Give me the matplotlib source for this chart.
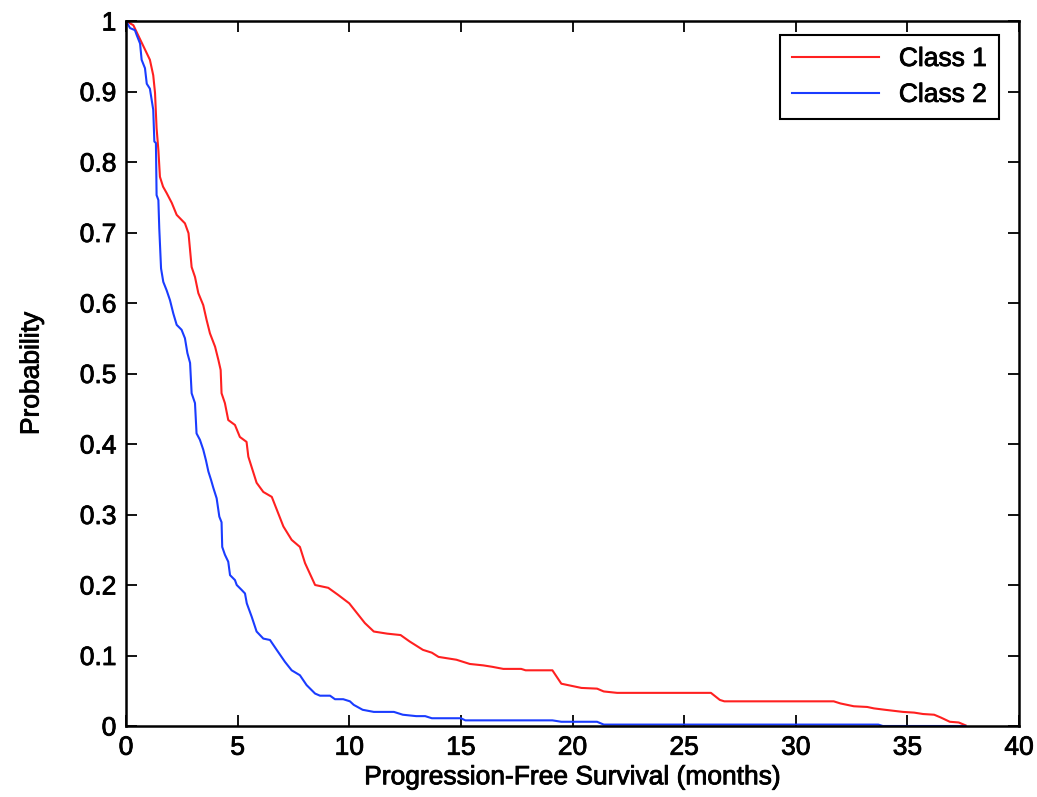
import matplotlib
matplotlib.use("Agg")
import matplotlib.pyplot as plt
import matplotlib.patheffects as pe

plt.rcParams['font.family'] = ['Liberation Sans', 'DejaVu Sans']

# Class 1 (red) survival curve
class1_x = [0, 0.33, 1.07, 1.22, 1.3, 1.37, 1.45, 1.52, 1.66, 1.82, 2.05, 2.27, 2.64, 2.8,
            2.94, 3.09, 3.24, 3.46, 3.61, 3.76, 3.99, 4.14, 4.24, 4.28, 4.43, 4.58, 4.88,
            5.1, 5.4, 5.48, 5.85, 6.15, 6.53, 7.05, 7.42, 7.79, 8.02, 8.47, 9.06, 9.5,
            10.0, 10.7, 11.1, 11.7, 12.3, 12.7, 13.3, 13.7, 14.0, 14.4, 14.8, 15.4, 16.0,
            16.4, 16.9, 17.7, 17.9, 19.1, 19.5, 20.4, 21.1, 21.4, 22.0, 26.2, 26.6, 26.8,
            31.7, 32.0, 32.6, 33.2, 33.5, 34.0, 34.8, 35.3, 35.7, 36.2, 36.5, 36.9, 37.3, 37.6]
class1_y = [1.0, 0.994, 0.945, 0.923, 0.898, 0.848, 0.817, 0.779, 0.765, 0.756, 0.742, 0.725,
            0.713, 0.699, 0.651, 0.637, 0.614, 0.597, 0.576, 0.557, 0.538, 0.519, 0.505,
            0.472, 0.458, 0.434, 0.427, 0.41, 0.403, 0.382, 0.345, 0.332, 0.325, 0.283,
            0.264, 0.254, 0.231, 0.2, 0.196, 0.186, 0.174, 0.146, 0.134, 0.131, 0.129,
            0.12, 0.108, 0.104, 0.098, 0.096, 0.094, 0.088, 0.086, 0.084, 0.081, 0.081,
            0.079, 0.079, 0.06, 0.054, 0.053, 0.049, 0.047, 0.047, 0.037, 0.035, 0.035,
            0.032, 0.028, 0.027, 0.025, 0.023, 0.02, 0.019, 0.017, 0.016, 0.012, 0.006,
            0.005, 0.001]

# Class 2 (blue) survival curve
class2_x = [0, 0.18, 0.4, 0.48, 0.63, 0.7, 0.85, 0.93, 1.07, 1.15, 1.22, 1.27, 1.34, 1.37,
            1.45, 1.49, 1.57, 1.67, 1.82, 1.97, 2.12, 2.27, 2.49, 2.64, 2.75, 2.87, 2.94,
            3.09, 3.16, 3.31, 3.46, 3.58, 3.69, 3.81, 3.91, 4.06, 4.18, 4.28, 4.31, 4.43,
            4.58, 4.66, 4.88, 4.96, 5.18, 5.33, 5.41, 5.63, 5.85, 6.15, 6.45, 6.75, 7.12,
            7.42, 7.79, 8.09, 8.47, 8.69, 9.14, 9.36, 9.73, 10.03, 10.2, 10.6, 11.1, 12.0,
            12.4, 13.0, 13.4, 13.7, 15.0, 15.2, 19.1, 19.5, 21.1, 21.4, 33.7, 33.9, 37.6]
class2_y = [1.0, 0.99, 0.987, 0.98, 0.968, 0.945, 0.933, 0.911, 0.904, 0.888, 0.874, 0.829,
            0.827, 0.753, 0.746, 0.706, 0.649, 0.63, 0.618, 0.604, 0.585, 0.569, 0.562,
            0.55, 0.529, 0.515, 0.472, 0.458, 0.415, 0.406, 0.392, 0.377, 0.361, 0.349,
            0.338, 0.323, 0.297, 0.289, 0.254, 0.243, 0.233, 0.214, 0.207, 0.2, 0.193,
            0.188, 0.174, 0.155, 0.134, 0.124, 0.122, 0.108, 0.091, 0.079, 0.072, 0.058,
            0.046, 0.043, 0.043, 0.038, 0.038, 0.035, 0.03, 0.023, 0.02, 0.02, 0.016,
            0.014, 0.014, 0.011, 0.011, 0.008, 0.008, 0.006, 0.006, 0.002, 0.002, 0.0, 0.0]

x_ticks = [0, 5, 10, 15, 20, 25, 30, 35, 40]
y_ticks = [0, 0.1, 0.2, 0.3, 0.4, 0.5, 0.6, 0.7, 0.8, 0.9, 1.0]
y_tick_labels = ['0', '0.1', '0.2', '0.3', '0.4', '0.5', '0.6', '0.7', '0.8', '0.9', '1']

fig = plt.figure(figsize=(10.37, 7.97), dpi=100)
ax = fig.add_axes([126 / 1037, 1 - 726 / 797, (1019 - 126) / 1037, (726 - 21) / 797])

ax.plot(class1_x, class1_y, color='#ff2020', lw=1.5, label='Class 1')
ax.plot(class2_x, class2_y, color='#1a3cff', lw=1.5, label='Class 2')

ax.set_xlim(0, 40)
ax.set_ylim(0, 1)
ax.set_xticks(x_ticks)
ax.set_xticklabels([str(t) for t in x_ticks])
ax.set_yticks(y_ticks)
ax.set_yticklabels(y_tick_labels)
ax.tick_params(direction='in', length=8, width=1.3, top=True, right=True,
               labelsize=19, pad=7, colors='black')
for s in ax.spines.values():
    s.set_linewidth(1.8)

ax.set_xlabel('Progression-Free Survival (months)', fontsize=19, labelpad=4)
ax.set_ylabel('Probability', fontsize=19, labelpad=26)

leg = ax.legend(loc='upper right', bbox_to_anchor=(0.9776, 0.980), fontsize=19,
                frameon=True, fancybox=False, edgecolor='black', framealpha=1,
                borderaxespad=0, handlelength=3.3, handletextpad=0.75,
                borderpad=0.45, labelspacing=0.45)
leg.get_frame().set_linewidth(1.5)

# slightly heavier text, as in the reference rendering
heavy = [pe.withStroke(linewidth=0.6, foreground='black')]
texts = (ax.get_xticklabels() + ax.get_yticklabels() +
         [ax.xaxis.label, ax.yaxis.label] + leg.get_texts())
for t in texts:
    t.set_path_effects(heavy)

fig.savefig('out.png', dpi=100)
